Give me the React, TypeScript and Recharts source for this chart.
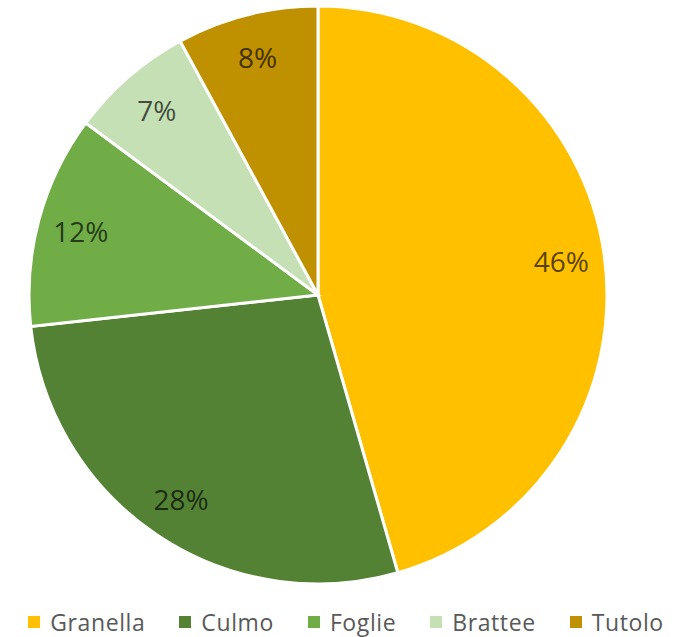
import React from 'react';
import { PieChart, Pie, Cell, Legend } from 'recharts';

const parts = ['Granella', 'Culmo', 'Foglie', 'Brattee', 'Tutolo'];
const shares = [46, 28, 12, 7, 8];
const colors = ['#FFC000', '#548235', '#70AD47', '#C5E0B4', '#BF9000'];

const data = parts.map((name, i) => ({ name, value: shares[i] }));

const FONT = '"Open Sans", "Noto Sans", sans-serif';
const RAD = Math.PI / 180;

const renderLabel = (props: any) => {
  const { cx, cy, midAngle, outerRadius, value } = props;
  const r = outerRadius * 0.85;
  const x = cx + r * Math.cos(-midAngle * RAD);
  const y = cy + r * Math.sin(-midAngle * RAD);
  return (
    <text
      x={x}
      y={y}
      fill="#000000"
      fillOpacity={0.68}
      textAnchor="middle"
      dominantBaseline="central"
      fontSize={28}
      fontFamily={FONT}
    >
      {`${value}%`}
    </text>
  );
};

// legend keeps the series order (recharts would sort it)
const renderLegend = () => (
  <div
    style={{
      display: 'flex',
      justifyContent: 'center',
      alignItems: 'center',
      gap: 34,
      fontFamily: FONT,
    }}
  >
    {parts.map((name, i) => (
      <div key={name} style={{ display: 'flex', alignItems: 'center' }}>
        <span
          style={{
            display: 'inline-block',
            width: 12,
            height: 12,
            background: colors[i],
            marginRight: 10,
          }}
        />
        <span style={{ fontSize: 23, letterSpacing: 0.6, color: '#595959', lineHeight: '28px' }}>{name}</span>
      </div>
    ))}
  </div>
);

export default function App() {
  return (
    <div style={{ position: 'absolute', left: 0, top: 0, width: 692, height: 637, background: '#fff' }}>
      <PieChart width={692} height={637} margin={{ top: 0, right: 0, bottom: 0, left: 0 }}>
        <Pie
          data={data}
          dataKey="value"
          nameKey="name"
          cx={318}
          cy={295}
          outerRadius={289}
          startAngle={90}
          endAngle={-270}
          stroke="#ffffff"
          strokeWidth={3}
          label={renderLabel}
          labelLine={false}
          isAnimationActive={false}
        >
          {data.map((d, i) => (
            <Cell key={d.name} fill={colors[i]} />
          ))}
        </Pie>
        <Legend
          verticalAlign="bottom"
          content={renderLegend}
          wrapperStyle={{ bottom: 1, left: 0, width: 692 }}
        />
      </PieChart>
    </div>
  );
}
